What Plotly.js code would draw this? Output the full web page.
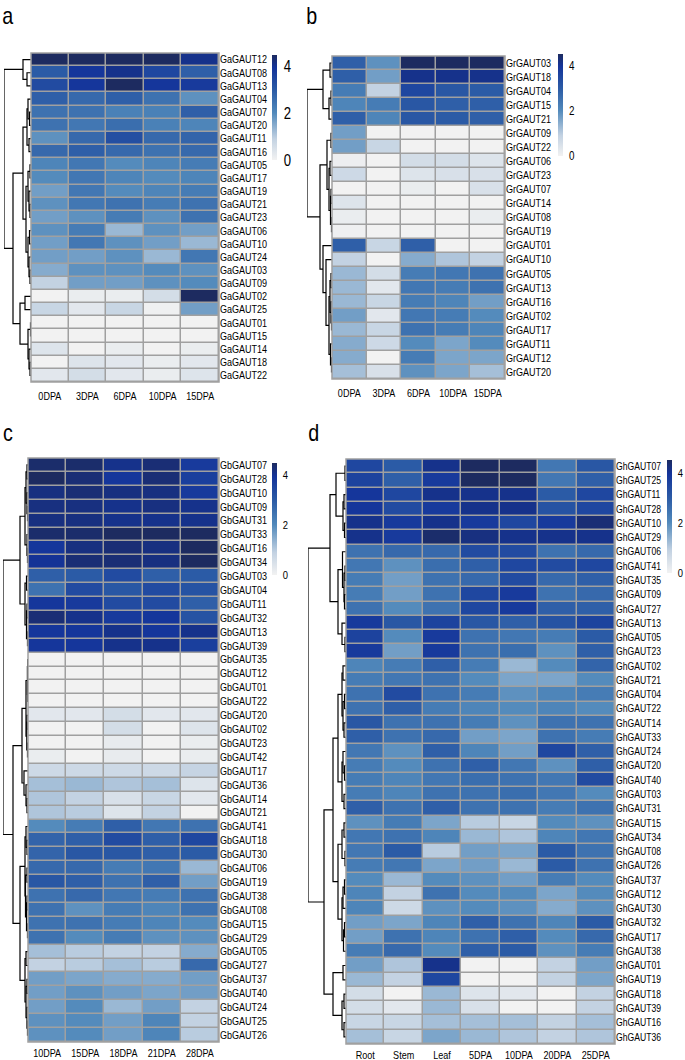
<!DOCTYPE html>
<html><head><meta charset="utf-8">
<script src="https://cdn.plot.ly/plotly-3.0.1.min.js"></script>
<style>html,body{margin:0;padding:0;background:#fff}#chart{width:685px;height:1060px}</style>
</head><body><div id="chart"></div>
<script>
// ---------------- DATA ----------------
const colsA = ['0DPA','3DPA','6DPA','10DPA','15DPA'];
const genesA = ['GaGAUT12','GaGAUT08','GaGAUT13','GaGAUT04','GaGAUT07','GaGAUT20','GaGAUT11','GaGAUT16','GaGAUT05','GaGAUT17','GaGAUT19','GaGAUT21','GaGAUT23','GaGAUT06','GaGAUT10','GaGAUT24','GaGAUT03','GaGAUT09','GaGAUT02','GaGAUT25','GaGAUT01','GaGAUT15','GaGAUT14','GaGAUT18','GaGAUT22'];
const valsA = [
 [4.5,4.5,4.5,4.5,4.1],[3.0,3.9,4.1,3.5,2.9],[3.4,3.9,4.5,3.9,3.8],[2.9,2.7,2.9,2.5,1.9],[2.5,2.5,2.2,2.2,2.9],
 [2.5,2.4,2.6,2.2,2.1],[1.9,2.7,3.3,2.7,2.8],[2.7,2.9,2.7,2.5,2.7],[2.1,2.4,2.0,2.1,2.3],[2.0,2.4,2.1,2.0,2.1],
 [1.7,2.4,2.0,2.1,2.3],[1.9,2.4,2.5,2.3,2.5],[1.7,1.9,2.3,1.9,2.5],[1.9,2.3,1.3,1.9,1.7],[1.7,2.4,1.9,1.7,1.3],
 [1.7,1.7,1.9,1.3,2.4],[1.5,1.9,1.9,2.0,1.9],[0.9,1.7,1.7,1.9,2.0],[0.0,0.15,0.15,0.6,4.5],[0.8,0.3,0.8,0.05,1.7],
 [0,0,0,0,0],[0,0,0,0,0],[0.4,0,0.15,0,0.15],[0,0.4,0.3,0.15,0.3],[0.3,0.6,0.3,0.15,0.4]];
const treeA = [[0,[1,2,4],8],[[[[3,[4,5,1.5],3],[6,7,2],4],[[[8,9,1],[10,[11,12,1],2],3],[[13,14,1.5],[15,[16,17,1],2],3],5],8],[[18,19,6],[[20,21,0.5],[22,[23,24,1],2],3],11],18],27];

const colsB = ['0DPA','3DPA','6DPA','10DPA','15DPA'];
const genesB = ['GrGAUT03','GrGAUT18','GrGAUT04','GrGAUT15','GrGAUT21','GrGAUT09','GrGAUT22','GrGAUT06','GrGAUT23','GrGAUT07','GrGAUT14','GrGAUT08','GrGAUT19','GrGAUT01','GrGAUT10','GrGAUT05','GrGAUT13','GrGAUT16','GrGAUT02','GrGAUT17','GrGAUT11','GrGAUT12','GrGAUT20'];
const valsB = [
 [2.9,1.9,4.5,4.5,4.5],[2.9,1.7,4.1,4.1,4.1],[2.3,0.9,3.5,3.1,3.0],[2.1,2.3,3.1,2.9,2.9],[2.9,2.1,3.1,3.0,2.9],
 [1.7,0,0,0,0],[1.7,0.8,0,0,0],[0.1,0,0.6,0.6,0.4],[0.7,0,0.4,0.5,0.5],[0,0,0.15,0,0.5],
 [0.4,0,0,0,0],[0.15,0,0,0,0.15],[0.05,0,0,0,0],[2.9,0.8,2.9,0,0],[0.9,0,1.5,1.1,0.9],
 [1.3,0.6,2.3,2.4,2.5],[1.3,0.3,2.4,2.3,2.5],[1.3,0.8,2.3,2.1,1.7],[1.7,0.3,2.4,2.3,2.0],[1.3,0.8,2.5,2.3,2.1],
 [1.5,0.7,2.0,1.6,2.0],[1.5,0,2.3,1.6,1.6],[1.2,0.5,1.9,1.6,1.2]];
const treeB = [[[0,1,2],[[2,3,1],4,3],9],[[[5,6,1],[[7,8,2],[[9,10,1],[11,12,0.5],1.5],3],5],[13,[14,[[[15,16,1],[17,[18,19,0.5],1],2],[20,[21,22,0.5],1.5],3],6],9],12],25];

const colsC = ['10DPA','15DPA','18DPA','21DPA','28DPA'];
const genesC = ['GbGAUT07','GbGAUT28','GbGAUT10','GbGAUT09','GbGAUT31','GbGAUT33','GbGAUT16','GbGAUT34','GbGAUT03','GbGAUT04','GbGAUT11','GbGAUT32','GbGAUT13','GbGAUT39','GbGAUT35','GbGAUT12','GbGAUT01','GbGAUT22','GbGAUT20','GbGAUT02','GbGAUT23','GbGAUT42','GbGAUT17','GbGAUT36','GbGAUT14','GbGAUT21','GbGAUT41','GbGAUT18','GbGAUT30','GbGAUT06','GbGAUT19','GbGAUT38','GbGAUT08','GbGAUT15','GbGAUT29','GbGAUT05','GbGAUT27','GbGAUT37','GbGAUT40','GbGAUT24','GbGAUT25','GbGAUT26'];
const valsC = [
 [4.4,4.4,4.1,4.3,3.8],[4.5,4.3,3.9,4.3,3.7],[4.2,4.3,4.2,4.2,3.8],[4.2,4.2,4.1,4.2,4.1],[4.2,4.2,4.1,4.1,4.1],
 [4.4,4.4,4.5,4.5,4.5],[3.9,4.2,4.3,4.2,4.5],[4.0,4.3,4.3,4.2,4.5],[2.9,3.0,3.4,2.9,3.0],[2.5,3.4,3.1,3.4,3.2],
 [3.9,3.8,3.4,3.4,2.9],[4.3,4.1,3.8,3.9,3.2],[3.9,3.9,4.1,3.9,4.1],[3.9,3.9,4.1,4.1,3.7],[0,0,0,0,0],
 [0,0,0,0,0],[0,0,0,0,0],[0,0,0,0,0],[0.3,0.3,0.6,0.3,0.3],[0,0,0.6,0,0.4],
 [0,0,0.2,0,0.15],[0.15,0,0.2,0,0.15],[0.7,0.7,0.7,0.7,0.85],[1.2,1.3,1.1,1.2,0.4],[1.1,0.9,0.5,0.8,0.3],
 [1.1,1.0,0.4,0.9,0],[2.0,2.3,2.9,2.4,2.5],[2.8,2.9,3.4,2.9,3.5],[2.8,3.1,3.1,2.9,3.0],[2.7,2.7,2.3,2.4,1.3],
 [3.1,2.9,2.5,2.9,1.7],[2.5,2.7,2.4,2.3,2.5],[2.5,1.9,2.3,2.1,2.5],[2.5,2.5,2.3,2.1,2.0],[2.5,2.0,2.3,1.9,1.9],
 [1.2,1.0,0.9,0.9,1.5],[0.9,1.0,1.2,1.0,2.7],[1.7,1.6,1.5,1.5,1.7],[1.7,1.9,1.7,1.6,1.7],[1.7,2.0,1.3,1.7,0.9],
 [1.9,2.0,1.7,2.1,0.9],[1.9,2.0,1.7,2.1,1.0]];
const treeC = [[[[[0,1,1],[2,[3,4,0.5],1],2],[5,[6,7,0.5],1],3],[[8,9,1.5],[[10,11,1],[12,13,0.5],1.5],3],8],[[[[[14,15,0.3],[16,17,0.3],0.6],[[18,19,1],[20,21,0.5],1.2],2],[22,[23,[24,25,1],2],4],6],[[[26,[27,28,1],2],[[29,30,1],[[31,32,1],[33,34,0.5],1.5],2.5],3],[[35,36,2],[[37,38,1],[39,[40,41,0.5],1],2],3],8],15],25];

const colsD = ['Root','Stem','Leaf','5DPA','10DPA','20DPA','25DPA'];
const genesD = ['GhGAUT07','GhGAUT25','GhGAUT11','GhGAUT28','GhGAUT10','GhGAUT29','GhGAUT06','GhGAUT41','GhGAUT35','GhGAUT09','GhGAUT27','GhGAUT13','GhGAUT05','GhGAUT23','GhGAUT02','GhGAUT21','GhGAUT04','GhGAUT22','GhGAUT14','GhGAUT33','GhGAUT24','GhGAUT20','GhGAUT40','GhGAUT03','GhGAUT31','GhGAUT15','GhGAUT34','GhGAUT08','GhGAUT26','GhGAUT37','GhGAUT12','GhGAUT30','GhGAUT32','GhGAUT17','GhGAUT38','GhGAUT01','GhGAUT19','GhGAUT18','GhGAUT39','GhGAUT16','GhGAUT36'];
const valsD = [
 [3.5,3.0,4.1,4.5,4.5,2.4,3.1],[3.6,2.9,3.8,4.5,4.5,2.4,2.9],[3.9,3.5,4.1,4.1,4.1,3.0,3.5],[3.9,3.4,3.8,4.1,4.1,3.2,3.5],
 [4.1,3.8,4.1,3.8,3.5,3.8,4.3],[4.1,3.8,4.4,4.2,4.1,4.1,4.1],[2.5,2.7,2.7,3.4,3.4,2.5,2.7],[2.4,1.9,2.6,2.9,3.5,3.4,3.5],
 [2.3,1.7,2.5,2.7,3.4,2.7,2.9],[2.3,1.7,2.5,3.5,3.8,2.5,2.7],[2.5,2.0,2.5,3.5,3.8,2.9,2.9],[3.8,3.1,3.6,3.1,2.9,3.2,3.6],
 [3.6,2.0,3.8,2.5,2.4,2.3,3.0],[3.8,1.7,3.8,2.5,2.6,1.9,2.9],[2.1,2.3,2.9,2.3,1.3,2.0,2.8],[2.3,2.4,2.5,2.0,1.6,1.6,2.0],
 [2.5,3.4,2.5,2.3,1.9,2.1,2.3],[2.5,2.9,2.3,2.1,2.0,2.1,2.0],[3.1,2.5,2.5,2.3,1.9,2.5,2.5],[2.9,2.5,2.7,1.7,1.6,2.5,2.3],
 [2.4,1.9,2.9,2.1,1.7,3.5,2.9],[2.3,2.0,2.5,2.9,2.4,1.9,2.9],[2.3,2.1,2.4,2.6,2.5,2.4,3.4],[2.3,2.1,2.5,2.5,2.6,2.4,2.0],
 [2.9,2.5,2.9,2.5,2.5,2.3,2.5],[1.9,2.3,1.6,1.0,0.8,2.0,1.9],[2.4,2.5,2.1,1.3,1.1,2.1,2.4],[2.4,3.0,1.0,1.7,1.6,3.0,2.5],
 [2.3,2.4,1.6,1.7,1.3,3.0,2.5],[2.0,1.3,2.0,1.9,1.7,2.3,2.0],[2.1,0.9,2.5,2.0,2.0,1.6,2.0],[2.1,0.7,1.9,2.0,1.9,1.5,1.9],
 [1.7,1.6,2.1,2.9,2.5,2.1,3.0],[1.7,2.5,2.1,2.5,2.9,2.0,2.7],[2.3,2.7,2.0,2.9,3.0,1.9,2.3],[1.7,1.1,4.1,0,0,0.9,1.7],
 [1.3,0.9,3.5,0,0,0.9,1.6],[0.6,0,1.3,0.4,0.3,0,0.9],[0.6,0.3,1.3,0.5,0,0,0.9],[0.8,0.8,1.2,1.2,1.2,0.9,1.2],
 [1.2,0.8,1.6,1.3,1.1,0.9,1.1]];
const treeD = [[[[0,1,1],[[2,3,2],[4,5,1.5],3],10],[[6,[[7,8,1],[9,10,1.5],2],3.5],[11,[12,13,1],4],8],16],[[[[[14,15,3],[[16,17,1.5],[18,19,2],3],4],[[20,[21,22,1.5],3],[23,24,2],4],8],[[[25,26,2],[27,28,1],4],[[[29,30,1.5],31,3],[[32,33,1.5],34,2.5],4],8],13],[[35,36,3],[[37,38,2],[39,40,2],4],13],22],38];

const panelLetters = ['a','b','c','d'];
const legendTicks = [0,2,4];

// ---------------- STYLE / LAYOUT ----------------
const W = 685, H = 1060;
const FONT = "'Liberation Sans',Arial,sans-serif";
const CONDENSE = 0.82;
const colorscale = [[0,'#f2f2f2'],[0.2,'#c3d2e2'],[0.45,'#5189bb'],[0.66,'#2c5ca6'],[0.88,'#14349a'],[1,'#1d2b60']];
const ZMAX = 4.5;
const GRID = '#a0a0a0';

const panels = [
 {genes:genesA, cols:colsA, vals:valsA, tree:treeA, hx:[31,219], hy:[53,382], dx:4, cb:{x:272,top:55,bot:160,fs:16}, lf:11, xf:11, xtl:4, letter:[8,16]},
 {genes:genesB, cols:colsB, vals:valsB, tree:treeB, hx:[332,505], hy:[56,379], dx:307, cb:{x:558,top:54,bot:156,fs:12}, lf:11, xf:11, xtl:4, letter:[311,16]},
 {genes:genesC, cols:colsC, vals:valsC, tree:treeC, hx:[28,219], hy:[458,1042], dx:3, cb:{x:272,top:463,bot:575,fs:11.5}, lf:11, xf:11, xtl:1, letter:[8,432]},
 {genes:genesD, cols:colsD, vals:valsD, tree:treeD, hx:[346,615], hy:[459,1044], dx:308, cb:{x:667,top:460,bot:573,fs:11.5}, lf:10.5, xf:11, xtl:1, letter:[313,432]}
];

const px = p => p / W;
const py = p => 1 - p / H;

function dendroSegments(node, xs, ys) {
  if (typeof node === 'number') return {y: node, h: 0};
  const L = dendroSegments(node[0], xs, ys);
  const R = dendroSegments(node[1], xs, ys);
  const h = node[2];
  xs.push(L.h, h, h, R.h, null);
  ys.push(L.y, L.y, R.y, R.y, null);
  return {y: (L.y + R.y) / 2, h: h};
}

const traces = [];
const layout = {
  width: W, height: H, margin: {l:0, r:0, t:0, b:0},
  paper_bgcolor: '#fff', plot_bgcolor: '#fff', showlegend: false,
  font: {family: FONT, color: '#000'},
  shapes: [], annotations: []
};

panels.forEach((p, i) => {
  const hxN = 2*i + 1, dxN = 2*i + 2;
  const n = p.genes.length;
  const idx = p.genes.map((_, k) => k);
  const ydom = [py(p.hy[1]), py(p.hy[0])];
  traces.push({
    type: 'heatmap', z: p.vals, x: p.cols, y: idx,
    xaxis: 'x' + hxN, yaxis: 'y' + hxN,
    colorscale: colorscale, zmin: 0, zmax: ZMAX, xgap: 1.5, ygap: 1.5,
    hoverinfo: 'skip',
    colorbar: {
      x: px(p.cb.x), xanchor: 'left', xref: 'paper',
      y: py(p.cb.bot), yanchor: 'bottom', yref: 'paper',
      len: p.cb.bot - p.cb.top, lenmode: 'pixels',
      thickness: 5, thicknessmode: 'pixels', outlinewidth: 0,
      xpad: 0, ypad: 0, tickvals: legendTicks, ticks: 'outside', ticklen: 4,
      tickcolor: 'rgba(0,0,0,0)', tickfont: {size: p.cb.fs, family: FONT, color: '#000'}
    }
  });
  const xs = [], ys = [];
  dendroSegments(p.tree, xs, ys);
  const rootH = p.tree[2];
  traces.push({
    type: 'scatter', mode: 'lines', x: xs, y: ys,
    xaxis: 'x' + dxN, yaxis: 'y' + dxN,
    line: {color: '#000', width: 1.2}, hoverinfo: 'skip', showlegend: false
  });
  layout['xaxis' + hxN] = {
    domain: [px(p.hx[0]), px(p.hx[1])], anchor: 'y' + hxN, type: 'category',
    showgrid: false, zeroline: false, showline: false, tickangle: 0,
    ticks: 'outside', ticklen: p.xtl, tickcolor: 'rgba(0,0,0,0)',
    tickfont: {size: p.xf, family: FONT, color: '#000'}, fixedrange: true
  };
  layout['yaxis' + hxN] = {
    domain: ydom, anchor: 'x' + hxN, side: 'right',
    range: [n - 0.5, -0.5], tickvals: idx, ticktext: p.genes, ticks: '',
    showgrid: false, zeroline: false, showline: false,
    tickfont: {size: p.lf, family: FONT, color: '#000'}, fixedrange: true
  };
  layout['xaxis' + dxN] = {
    domain: [px(p.dx), px(p.hx[0])], anchor: 'y' + dxN,
    range: [rootH, 0], visible: false, fixedrange: true
  };
  layout['yaxis' + dxN] = {
    domain: ydom, anchor: 'x' + dxN, range: [n - 0.5, -0.5], visible: false, fixedrange: true
  };
  layout.shapes.push({
    type: 'rect', xref: 'x' + hxN + ' domain', yref: 'y' + hxN + ' domain',
    x0: 0, x1: 1, y0: 0, y1: 1, fillcolor: GRID, line: {width: 0}, layer: 'below'
  });
  layout.shapes.push({
    type: 'rect', xref: 'x' + hxN + ' domain', yref: 'y' + hxN + ' domain',
    x0: 0, x1: 1, y0: 0, y1: 1, fillcolor: 'rgba(0,0,0,0)', line: {width: 1.5, color: GRID}, layer: 'above'
  });
  layout.annotations.push({
    text: panelLetters[i], xref: 'paper', yref: 'paper',
    x: px(p.letter[0]), y: py(p.letter[1]), xanchor: 'center', yanchor: 'middle',
    showarrow: false, font: {size: 24, family: FONT, color: '#000'}
  });
});

// narrow (condensed) lettering like the original figure
function condense() {
  document.querySelectorAll('#chart svg text').forEach(t => {
    const w = t.getComputedTextLength();
    if (w > 0) {
      t.setAttribute('textLength', (w * CONDENSE).toFixed(2));
      t.setAttribute('lengthAdjust', 'spacingAndGlyphs');
    }
  });
}
Plotly.newPlot('chart', traces, layout, {displayModeBar: false, staticPlot: true}).then(condense);
</script>
</body></html>
